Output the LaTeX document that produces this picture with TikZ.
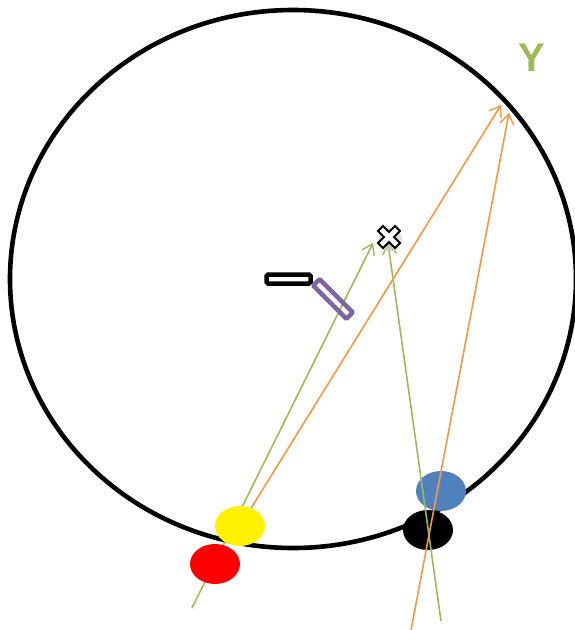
\documentclass[tikz,border=0pt]{standalone}
\usepackage{fontspec}
\setmainfont{Liberation Sans}
\usetikzlibrary{arrows.meta,shapes.geometric}
\definecolor{ygreen}{HTML}{9BBB59}
\definecolor{oorange}{HTML}{F79646}
\definecolor{bblue}{HTML}{4F81BD}
\definecolor{ppurple}{HTML}{8064A2}
\tikzset{
  blob/.style={ellipse, minimum width=50pt, minimum height=40pt, inner sep=0pt, draw=none},
  ray/.style={line width=1.6pt, -{Straight Barb[length=10pt,width=14pt,line width=1.4pt]}},
}
\begin{document}
\begin{tikzpicture}[x=1pt,y=-1pt]
\useasboundingbox (0,0) rectangle (575,630);
% big circle
\draw[line width=4.6pt] (293,279) ellipse [x radius=283, y radius=269];
% blobs under the rays
\node[blob, fill=bblue] (blue) at (441,491) {};
\node[blob, fill=black] (blk) at (428,530) {};
% coordinates
\coordinate (g1s) at (192,608);
\coordinate (g1e) at (373,243);
\coordinate (g2s) at (441,621);
\coordinate (g2e) at (388,243);
\coordinate (o1s) at (240,526);
\coordinate (o1e) at (501,105);
\coordinate (o2s) at (411,630);
\coordinate (o2e) at (509,113);
% rays
\draw[ray, draw=ygreen] (g1s) -- (g1e);
\draw[ray, draw=ygreen] (g2s) -- (g2e);
\draw[ray, draw=oorange] (o1s) -- (o1e);
\draw[ray, draw=oorange] (o2s) -- (o2e);
% blobs over rays
\node[blob, fill=yellow] (yel) at (240,526) {};
\node[blob, fill=red] (red) at (215,564) {};
% black rectangle
\node[draw=black, line width=4.5pt, rounded corners=1.5pt, minimum width=44pt, minimum height=9pt, inner sep=0pt] (bar) at (288.5,279) {};
% purple rotated rectangle
\node[draw=ppurple, line width=4.5pt, rounded corners=1pt, minimum width=47pt, minimum height=9pt, inner sep=0pt, rotate=-45] (pbar) at (333,299) {};
% cross with shadow
\fill[gray!45, opacity=0.6] (390,240) circle (12pt);
\node (cross) at (389,237) {};
\draw[line width=2pt, fill=white, rotate around={45:(389,237)}]
  (385.5,225) -- (392.5,225) -- (392.5,233.5) -- (401,233.5) -- (401,240.5) -- (392.5,240.5) -- (392.5,249) -- (385.5,249) -- (385.5,240.5) -- (377,240.5) -- (377,233.5) -- (385.5,233.5) -- cycle;
% label
\node[text=ygreen, font=\bfseries\fontsize{40}{40}\selectfont] (ylab) at (532,58) {Y};
\end{tikzpicture}
\end{document}
